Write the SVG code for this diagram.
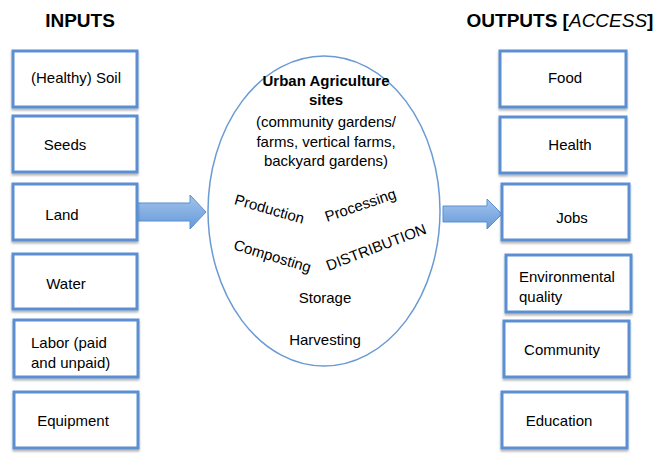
<svg xmlns="http://www.w3.org/2000/svg" width="653" height="458" viewBox="0 0 653 458">
<defs>
<linearGradient id="ag" x1="0" y1="0" x2="0" y2="1">
<stop offset="0" stop-color="#a4c4ec"/>
<stop offset="1" stop-color="#6599d9"/>
</linearGradient>
<filter id="sh" x="-10%" y="-10%" width="120%" height="130%">
<feDropShadow dx="0" dy="2" stdDeviation="1.2" flood-color="#000" flood-opacity="0.3"/>
</filter>
</defs>
<style>
.box{fill:#fff;stroke:#5b8fd2;stroke-width:3;filter:url(#sh)}
.t{font-family:"Liberation Sans",Arial,sans-serif;font-size:15px;fill:#000}
.c{text-anchor:middle}
.h{font-family:"Liberation Sans",Arial,sans-serif;font-size:19px;font-weight:bold;fill:#000}
.b{font-weight:bold}
.arrow{fill:url(#ag);stroke:#5b8fd2;stroke-width:1}
</style>
<rect width="653" height="458" fill="#fff"/>
<text class="h" x="80" y="27" text-anchor="middle">INPUTS</text>
<text class="h" x="560" y="27" text-anchor="middle">OUTPUTS [<tspan font-style="italic" font-weight="normal">ACCESS</tspan>]</text>

<g id="connectors">
<path class="arrow" d="M137,203 L190,203 L190,195 L206,212 L190,229 L190,221 L137,221 Z"/>
<path class="arrow" d="M443,206 L487,206 L487,199 L502,214 L487,229 L487,222 L443,222 Z"/>
</g>

<g id="in-soil"><rect class="box" x="13" y="51" width="124" height="56"/><text class="t c" x="76" y="83">(Healthy) Soil</text></g>
<g id="in-seeds"><rect class="box" x="13" y="116" width="124" height="56"/><text class="t c" x="65" y="150">Seeds</text></g>
<g id="in-land"><rect class="box" x="13" y="184" width="124" height="56"/><text class="t c" x="62" y="220">Land</text></g>
<g id="in-water"><rect class="box" x="13" y="254" width="124" height="55"/><text class="t c" x="66" y="289">Water</text></g>
<g id="in-labor"><rect class="box" x="14" y="320" width="124" height="57"/><text class="t" x="31" y="348">Labor (paid</text><text class="t" x="31" y="368">and unpaid)</text></g>
<g id="in-equipment"><rect class="box" x="14" y="392" width="124" height="56"/><text class="t c" x="73" y="426">Equipment</text></g>

<g id="center">
<ellipse cx="324" cy="211" rx="116" ry="155" fill="#fff" stroke="#6a9bd3" stroke-width="1.5"/>
<text class="t c b" x="326" y="86">Urban Agriculture</text>
<text class="t c b" x="326" y="105">sites</text>
<text class="t c" x="326" y="127">(community gardens/</text>
<text class="t c" x="326" y="147">farms, vertical farms,</text>
<text class="t c" x="326" y="166">backyard gardens)</text>
<text class="t c" transform="translate(268,214) rotate(16)">Production</text>
<text class="t c" transform="translate(362,210) rotate(-19)">Processing</text>
<text class="t c" transform="translate(271,261) rotate(17)">Composting</text>
<text class="t c" transform="translate(378,252) rotate(-21)">DISTRIBUTION</text>
<text class="t c" x="325" y="303">Storage</text>
<text class="t c" x="325" y="345">Harvesting</text>
</g>

<g id="out-food"><rect class="box" x="500" y="51" width="126" height="56"/><text class="t c" x="565" y="83">Food</text></g>
<g id="out-health"><rect class="box" x="500" y="117" width="126" height="56"/><text class="t c" x="570" y="150">Health</text></g>
<g id="out-jobs"><rect class="box" x="502" y="184" width="127" height="56"/><text class="t c" x="572" y="223">Jobs</text></g>
<g id="out-env"><rect class="box" x="506" y="255" width="125" height="57"/><text class="t" x="519" y="282">Environmental</text><text class="t" x="519" y="302">quality</text></g>
<g id="out-community"><rect class="box" x="504" y="321" width="125" height="56"/><text class="t c" x="562" y="355">Community</text></g>
<g id="out-education"><rect class="box" x="502" y="392" width="125" height="56"/><text class="t c" x="559" y="426">Education</text></g>
</svg>
